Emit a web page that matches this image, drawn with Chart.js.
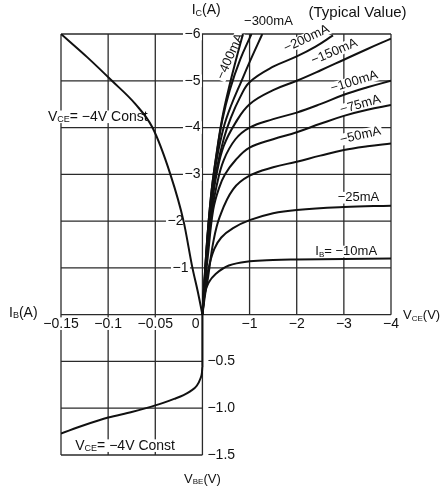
<!doctype html>
<html>
<head>
<title>Ic - Vce characteristics</title>
<script src="https://cdn.jsdelivr.net/npm/chart.js"></script>
<style>
  body { margin: 0; background: #fff; }
</style>
</head>
<body>
<canvas id="grafico" width="443" height="488"></canvas>
<script>
// upper right: IC against VCE, one curve per base current
const vce10  = [0, -0.05, -0.13, -0.28, -0.56, -1, -1.5, -2, -3, -4];
const ic10   = [0, -0.45, -0.68, -0.87, -1.05, -1.14, -1.17, -1.18, -1.19, -1.2];
const vce25  = [0, -0.05, -0.12, -0.25, -0.4, -0.65, -1, -1.5, -2, -3, -4];
const ic25   = [0, -0.5, -0.95, -1.4, -1.65, -1.85, -2.02, -2.17, -2.24, -2.3, -2.33];
const vce50  = [0, -0.06, -0.12, -0.23, -0.37, -0.65, -1, -1.5, -2, -2.5, -3, -3.5, -4];
const ic50   = [0, -0.45, -0.8, -1.55, -2.1, -2.68, -2.97, -3.15, -3.27, -3.4, -3.52, -3.6, -3.66];
const vce75  = [0, -0.06, -0.12, -0.23, -0.35, -0.48, -0.7, -1, -1.5, -2, -2.5, -3, -3.5, -4];
const ic75   = [0, -0.7, -1.3, -2.25, -2.7, -3.0, -3.3, -3.57, -3.75, -3.9, -4.08, -4.25, -4.38, -4.48];
const vce100 = [0, -0.06, -0.12, -0.2, -0.3, -0.45, -0.7, -1, -1.5, -2, -2.5, -3, -3.5, -4];
const ic100  = [0, -0.8, -1.5, -2.2, -2.75, -3.3, -3.75, -4.0, -4.18, -4.32, -4.5, -4.7, -4.86, -5.0];
const vce150 = [0, -0.06, -0.12, -0.2, -0.3, -0.45, -0.7, -1, -1.5, -2, -2.5, -3, -3.5, -4];
const ic150  = [0, -0.85, -1.6, -2.35, -3.0, -3.6, -4.1, -4.5, -4.8, -5.0, -5.22, -5.45, -5.68, -5.9];
const vce200 = [0, -0.06, -0.12, -0.2, -0.3, -0.45, -0.6, -0.8, -1, -1.5, -2, -2.4, -2.77];
const ic200  = [0, -0.9, -1.7, -2.45, -3.1, -3.75, -4.2, -4.65, -4.97, -5.3, -5.52, -5.73, -5.97];
const vce300 = [0, -0.06, -0.12, -0.2, -0.3, -0.45, -0.6, -0.83, -1, -1.27];
const ic300  = [0, -0.95, -1.8, -2.6, -3.3, -4.0, -4.45, -5.0, -5.4, -6.0];
const vce400a = [0, -0.06, -0.12, -0.2, -0.3, -0.42, -0.55, -0.7, -0.86];
const ic400a  = [0, -1.0, -1.85, -2.7, -3.45, -4.2, -4.8, -5.4, -6.0];
const vce400b = [0, -0.06, -0.12, -0.2, -0.3, -0.42, -0.58, -0.8, -1.04];
const ic400b  = [0, -1.0, -1.85, -2.7, -3.42, -4.15, -4.8, -5.45, -6.0];

// upper left: IC against IB, VCE = -4V
const ibGain = [0, -0.005, -0.0106, -0.02, -0.034, -0.053, -0.071, -0.096, -0.122, -0.15];
const icGain = [0, -0.5, -1, -2, -3, -4, -4.5, -5, -5.5, -6];

// lower left: VBE against IB, VCE = -4V
const ibIn  = [0, 0, -0.0005, -0.002, -0.006, -0.013, -0.02, -0.03, -0.05, -0.075, -0.1, -0.125, -0.15];
const vbeIn = [0, -0.55, -0.62, -0.68, -0.76, -0.82, -0.86, -0.9, -0.97, -1.04, -1.1, -1.18, -1.27];

// ticks
const vceTicks = [-1, -2, -3, -4];
const vceLabels = ['−1', '−2', '−3', '−4'];
const ibTicks = [-0.15, -0.1, -0.05, 0];
const ibLabels = ['−0.15', '−0.1', '−0.05', '0'];
const icTicks = [-1, -2, -3, -4, -5, -6];
const icLabels = ['−1', '−2', '−3', '−4', '−5', '−6'];
const vbeTicks = [-0.5, -1.0, -1.5];
const vbeLabels = ['−0.5', '−1.0', '−1.5'];

const FONT = "'Liberation Sans', Arial, sans-serif";

function serie(label, xs, ys, xAxisID, yAxisID, suave) {
    const d = {
        label: label,
        data: xs.map((x, i) => ({x: x, y: ys[i]})),
        xAxisID: xAxisID,
        yAxisID: yAxisID,
        showLine: true
    };
    if (suave) d.cubicInterpolationMode = 'monotone';
    else d.tension = 0.4;
    return d;
}

// 'V_{CE}(V)' -> pieces with small subscripts
function pieces(str, size) {
    const out = [];
    str.split(/(_\{[^}]*\})/).forEach(s => {
        if (!s) return;
        if (s.startsWith('_{')) out.push([s.slice(2, -1), Math.round(size * 0.62), size * 0.22]);
        else out.push([s, size, 0]);
    });
    return out;
}

function texto(ctx, str, x, y, o, bg) {
    const size = o.size || 13;
    const parts = pieces(str, size);
    let w = 0;
    parts.forEach(p => { ctx.font = p[1] + 'px ' + FONT; w += ctx.measureText(p[0]).width; });
    let left = -w / 2;
    if (o.align === 'right') left = -w;
    if (o.align === 'left') left = 0;
    ctx.save();
    ctx.translate(x, y);
    ctx.rotate((o.rot || 0) * Math.PI / 180);
    if (bg) {
        ctx.fillStyle = '#fff';
        ctx.fillRect(left - 1.5, -size * 0.45, w + 3, size * 0.9);
    } else {
        ctx.fillStyle = '#111';
        ctx.textBaseline = 'middle';
        ctx.textAlign = 'left';
        parts.forEach(p => {
            ctx.font = p[1] + 'px ' + FONT;
            ctx.fillText(p[0], left, p[2]);
            left += ctx.measureText(p[0]).width;
        });
    }
    ctx.restore();
}

function rotulos(chart, bg) {
    const ctx = chart.ctx, s = chart.scales;
    const X = v => s.vce.getPixelForValue(v), B = v => s.ib.getPixelForValue(v);
    const C = v => s.ic.getPixelForValue(v), E = v => s.vbe.getPixelForValue(v);
    const o = B(0);

    vceTicks.forEach((v, i) => texto(ctx, vceLabels[i], X(v), C(0) + 9, {size: 14}, bg));
    ibTicks.forEach((v, i) => {
        if (v === 0) texto(ctx, ibLabels[i], o - 3, C(0) + 9, {size: 14, align: 'right'}, bg);
        else texto(ctx, ibLabels[i], B(v), C(0) + 9, {size: 14}, bg);
    });
    // the -2 and -1 labels sit left of the gain curve
    const shift = {'-2': -17, '-1': -12};
    icTicks.forEach((v, i) => texto(ctx, icLabels[i], o - 2 + (shift[v] || 0), C(v), {size: 14, align: 'right'}, bg));
    vbeTicks.forEach((v, i) => texto(ctx, vbeLabels[i], o + 5, E(v), {size: 14, align: 'left'}, bg));

    const notas = [
        ['I_{C}(A)', X(-0.08), C(-6.5), {size: 14}],
        ['(Typical Value)', X(-3.29), C(-6.46), {size: 15}],
        ['−300mA', X(-1.4), C(-6.26), {size: 13}],
        ['−400mA', X(-0.59), C(-5.52), {size: 13, rot: -66}],
        ['−200mA', X(-2.21), C(-5.9), {size: 13, rot: -25}],
        ['−150mA', X(-2.8), C(-5.62), {size: 13, rot: -23}],
        ['−100mA', X(-3.22), C(-4.98), {size: 13, rot: -17}],
        ['−75mA', X(-3.35), C(-4.49), {size: 13, rot: -16}],
        ['−50mA', X(-3.35), C(-3.83), {size: 13, rot: -13}],
        ['−25mA', X(-3.31), C(-2.5), {size: 13}],
        ['I_{B}= −10mA', X(-3.05), C(-1.35), {size: 13}],
        ['V_{CE}(V)', X(-4.65), C(0.02), {size: 13}],
        ['V_{CE}= −4V Const', B(-0.111), C(-4.23), {size: 14}],
        ['I_{B}(A)', B(-0.19), C(-0.04), {size: 14}],
        ['V_{CE}= −4V Const', B(-0.082), E(-1.4), {size: 14}],
        ['V_{BE}(V)', B(0), E(-1.76), {size: 13}]
    ];
    notas.forEach(n => texto(ctx, n[0], n[1], n[2], n[3], bg));
}

const quadrantes = {
    id: 'quadrantes',
    beforeDatasetsDraw(chart) {
        const ctx = chart.ctx, s = chart.scales;
        const X = v => s.vce.getPixelForValue(v), B = v => s.ib.getPixelForValue(v);
        const C = v => s.ic.getPixelForValue(v), E = v => s.vbe.getPixelForValue(v);
        const linha = (x1, y1, x2, y2) => { ctx.beginPath(); ctx.moveTo(x1, y1); ctx.lineTo(x2, y2); ctx.stroke(); };
        ctx.save();
        ctx.strokeStyle = '#2a2a2a';
        ctx.lineWidth = 1.3;
        icTicks.concat([0]).forEach(v => linha(B(-0.15), C(v), X(-4), C(v)));
        vceTicks.forEach(v => linha(X(v), C(0), X(v), C(-6)));
        ibTicks.forEach(v => linha(B(v), E(-1.5), B(v), C(-6)));
        vbeTicks.forEach(v => linha(B(-0.15), E(v), B(0), E(v)));
        ctx.restore();
        rotulos(chart, true);
    },
    afterDatasetsDraw(chart) {
        rotulos(chart, false);
    }
};

const grafico = new Chart(document.getElementById('grafico').getContext('2d'), {
    type: 'scatter',
    data: {
        datasets: [
            serie('−10mA', vce10, ic10, 'vce', 'ic'),
            serie('−25mA', vce25, ic25, 'vce', 'ic'),
            serie('−50mA', vce50, ic50, 'vce', 'ic'),
            serie('−75mA', vce75, ic75, 'vce', 'ic'),
            serie('−100mA', vce100, ic100, 'vce', 'ic'),
            serie('−150mA', vce150, ic150, 'vce', 'ic'),
            serie('−200mA', vce200, ic200, 'vce', 'ic'),
            serie('−300mA', vce300, ic300, 'vce', 'ic'),
            serie('−400mA', vce400a, ic400a, 'vce', 'ic'),
            serie('−400mA ', vce400b, ic400b, 'vce', 'ic'),
            serie('IC - IB', ibGain, icGain, 'ib', 'ic', true),
            serie('VBE - IB', ibIn, vbeIn, 'ib', 'vbe', true)
        ]
    },
    options: {
        responsive: false,
        animation: false,
        layout: { padding: { left: 61, top: 34, right: 52, bottom: 33 } },
        plugins: { legend: { display: false }, tooltip: { enabled: false } },
        elements: {
            point: { radius: 0 },
            line: { borderWidth: 2, borderColor: '#111' }
        },
        scales: {
            vce: { type: 'linear', axis: 'x', min: -4, max: 3, reverse: true, display: false },
            ib: { type: 'linear', axis: 'x', min: -0.15, max: 0.2, display: false },
            ic: { type: 'linear', axis: 'y', min: -6, max: 3, reverse: true, display: false },
            vbe: { type: 'linear', axis: 'y', min: -1.5, max: 3, display: false }
        }
    },
    plugins: [quadrantes]
});
</script>
</body>
</html>
